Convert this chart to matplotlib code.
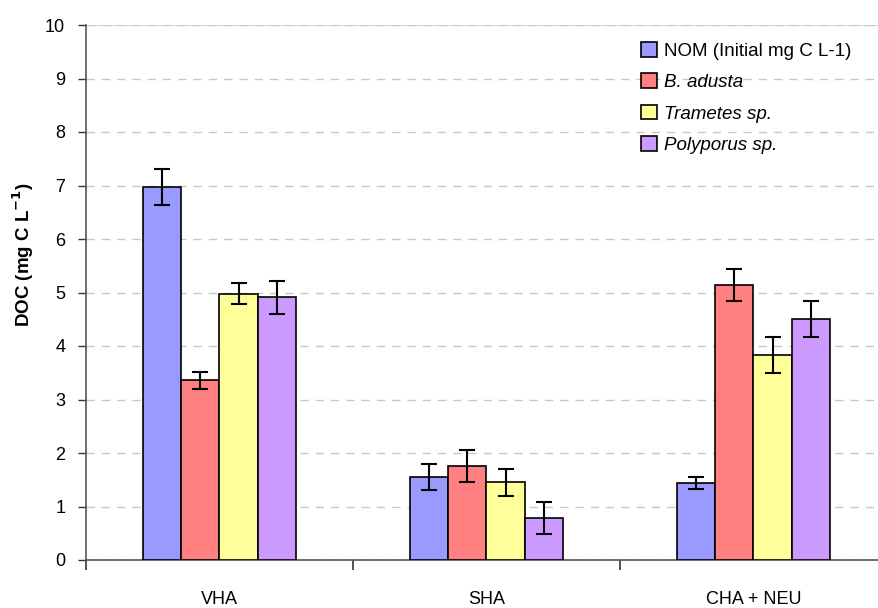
import numpy as np
import matplotlib

matplotlib.use("Agg")
import matplotlib.pyplot as plt
from matplotlib.ticker import FixedLocator, NullFormatter

plt.rcParams["font.family"] = ["Liberation Sans", "DejaVu Sans"]

categories = ["VHA", "SHA", "CHA + NEU"]
series = ["NOM (Initial mg C L-1)", "B. adusta", "Trametes sp.", "Polyporus sp."]
italic = [False, True, True, True]
colors = ["#9999FF", "#FF8080", "#FFFF99", "#CC99FF"]

nom = [6.97, 1.55, 1.44]
nom_err = [0.33, 0.24, 0.12]
adusta = [3.36, 1.75, 5.14]
adusta_err = [0.16, 0.30, 0.29]
trametes = [4.98, 1.45, 3.83]
trametes_err = [0.19, 0.26, 0.33]
polyporus = [4.91, 0.78, 4.50]
polyporus_err = [0.31, 0.30, 0.34]

values = [nom, adusta, trametes, polyporus]
errors = [nom_err, adusta_err, trametes_err, polyporus_err]

fig = plt.figure(figsize=(8.79, 6.08), dpi=100)
ax = fig.add_axes([86 / 879, 48 / 608, 801 / 879, 535 / 608])

x = np.arange(len(categories))
w = 0.144
for i, (vals, errs) in enumerate(zip(values, errors)):
    pos = x + (i - 1.5) * w
    ax.bar(pos, vals, width=w, color=colors[i], edgecolor="black",
           linewidth=1.2, label=series[i], zorder=3)
    ax.errorbar(pos, vals, yerr=errs, fmt="none", ecolor="black",
                elinewidth=1.5, capsize=6, capthick=1.5, zorder=4)

ax.set_xlim(-0.5, len(categories) - 0.5)
ax.set_ylim(0, 10)
ax.set_yticks(range(0, 11))
ax.yaxis.grid(True, color="#c8c8c8", linestyle=(0, (6, 5)), linewidth=1, zorder=0)
ax.axhline(10, color="#c8c8c8", linewidth=1.2, zorder=0)

ax.set_xticks(x)
ax.set_xticklabels(categories)
ax.xaxis.set_minor_locator(FixedLocator(np.arange(-0.5, len(categories), 1.0)))
ax.xaxis.set_minor_formatter(NullFormatter())
ax.tick_params(axis="x", which="major", length=0, pad=22, labelsize=13)
ax.tick_params(axis="x", which="minor", length=7, width=1.2, color="#333333")
ax.tick_params(axis="y", length=6, width=1, color="#333333", labelsize=13, pad=9)

for side in ["top", "right"]:
    ax.spines[side].set_visible(False)
for side in ["left", "bottom"]:
    ax.spines[side].set_color("#555555")
    ax.spines[side].set_linewidth(1.2)

ax.set_ylabel(r"DOC (mg C L$^{\mathbf{-1}}$)", fontweight="bold", fontsize=13.5)
ax.yaxis.set_label_coords(-0.063, 0.57)

leg = ax.legend(loc="upper left", bbox_to_anchor=(0.684, 0.983), frameon=False,
                fontsize=13.5, labelspacing=0.72, handlelength=0.85, handleheight=0.85,
                handletextpad=0.35, borderaxespad=0)
for txt, it in zip(leg.get_texts(), italic):
    if it:
        txt.set_style("italic")

fig.savefig("out.png", dpi=100)
